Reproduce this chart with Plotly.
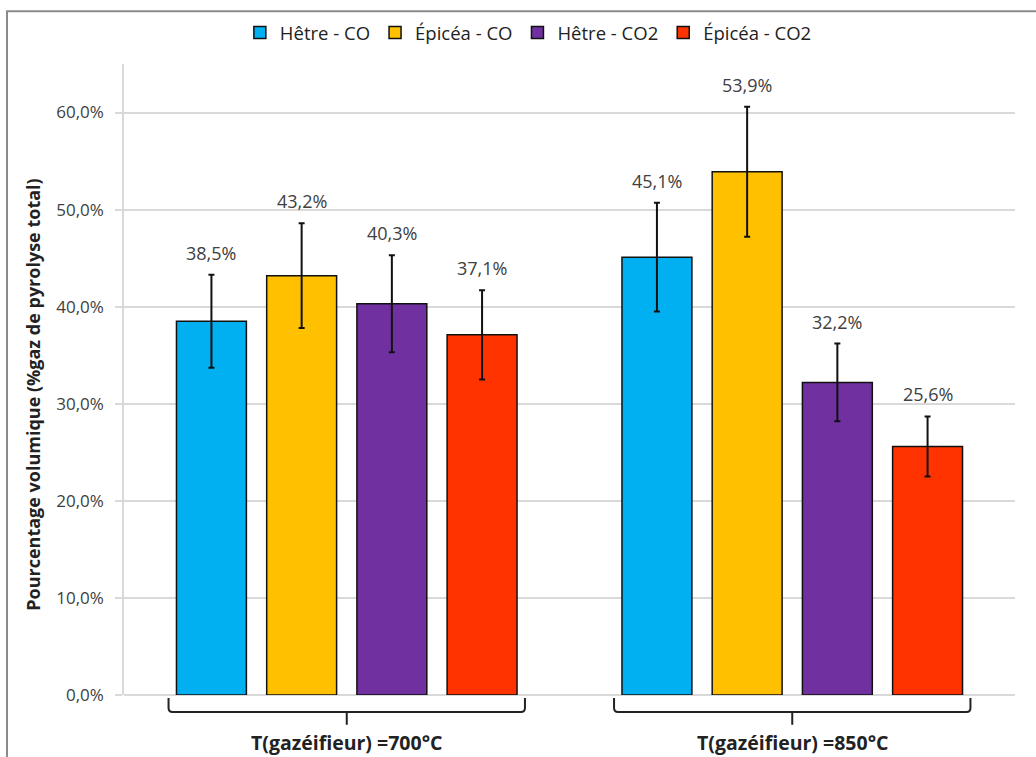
import plotly.graph_objects as go

# ---- data ----
categories = ["T(gazéifieur) =700°C", "T(gazéifieur) =850°C"]
series_names = ["Hêtre - CO", "Épicéa - CO", "Hêtre - CO2", "Épicéa - CO2"]
hetre_co = [38.5, 45.1]
epicea_co = [43.2, 53.9]
hetre_co2 = [40.3, 32.2]
epicea_co2 = [37.1, 25.6]
err_hetre_co = [4.8, 5.6]
err_epicea_co = [5.4, 6.7]
err_hetre_co2 = [5.0, 4.0]
err_epicea_co2 = [4.6, 3.1]
y_ticks = [0, 10, 20, 30, 40, 50, 60]
y_tick_labels = ["0,0%", "10,0%", "20,0%", "30,0%", "40,0%", "50,0%", "60,0%"]
y_title = "Pourcentage volumique (%gaz de pyrolyse total)"

values = [hetre_co, epicea_co, hetre_co2, epicea_co2]
errors = [err_hetre_co, err_epicea_co, err_hetre_co2, err_epicea_co2]
colors = ["#00B0F0", "#FFC000", "#7030A0", "#FF3300"]

FONT = "Open Sans"
BARGAP = 0.19
BARGROUPGAP = 0.225

fig = go.Figure()
for name, vals, errs, col in zip(series_names, values, errors, colors):
    fig.add_trace(go.Bar(
        name=name, x=categories, y=vals,
        marker=dict(color=col, line=dict(color="#111111", width=1.5)),
        error_y=dict(type="data", array=errs, visible=True,
                     color="#111111", thickness=2, width=3),
    ))

def fmt(v):
    return f"{v:.1f}".replace(".", ",") + "%"

annotations = []
n = len(series_names)
slot = (1 - BARGAP) / n
for k, (vals, errs) in enumerate(zip(values, errors)):
    off = -(1 - BARGAP) / 2 + slot * (k + 0.5)
    for i, (v, e) in enumerate(zip(vals, errs)):
        annotations.append(dict(
            x=i + off, y=v + e, xref="x", yref="y", text=fmt(v),
            showarrow=False, yanchor="bottom", yshift=8,
            font=dict(family=FONT, size=18, color="#404040")))

PLOT_W = 1036 - 124 - 21
PLOT_H = 757 - 60 - 62

# category labels below braces
for i, c in enumerate(categories):
    annotations.append(dict(
        x=i, y=-(743 - 695) / PLOT_H, xref="x", yref="paper",
        text=f"<b>{c}</b>", showarrow=False, yanchor="middle",
        font=dict(family=FONT, size=19.5, color="#222222")))

# y-axis title
annotations.append(dict(
    x=-0.102, y=0.476, xref="paper", yref="paper", text=f"<b>{y_title}</b>",
    textangle=-90, showarrow=False, xanchor="center", yanchor="middle",
    font=dict(family=FONT, size=18, color="#222222")))

# braces under each category (paper coords derived from category index)
def px2x(i, off_cat=0.0):
    return (i + off_cat + 0.5) / 2
def py(pix_below):
    return -pix_below / PLOT_H

shapes = []
half = 0.4
for i in range(len(categories)):
    xl = px2x(i, -half)
    xr = px2x(i, half)
    xc = px2x(i)
    r = 4 / PLOT_W
    rr = 4 / PLOT_H
    y0 = py(3)
    y1 = py(17)
    y2 = py(30)
    path = (f"M {xl},{y0} L {xl},{y1 + rr} Q {xl},{y1} {xl + r},{y1} "
            f"L {xr - r},{y1} Q {xr},{y1} {xr},{y1 + rr} L {xr},{y0} "
            f"M {xc},{y1} L {xc},{y2}")
    shapes.append(dict(type="path", path=path, xref="paper", yref="paper",
                       line=dict(color="#222222", width=2)))

# outer chart border (cropped at right/bottom)
shapes.append(dict(type="rect", xref="paper", yref="paper",
                   x0=(7 - 124) / PLOT_W, x1=(1045 - 124) / PLOT_W,
                   y0=-(770 - 695) / PLOT_H, y1=(695 - 7) / PLOT_H,
                   line=dict(color="#8a8a8a", width=2), layer="below"))

fig.update_layout(
    width=1036, height=757,
    barmode="group", bargap=BARGAP, bargroupgap=BARGROUPGAP,
    margin=dict(l=124, r=21, t=60, b=62),
    paper_bgcolor="white", plot_bgcolor="white",
    font=dict(family=FONT, size=17, color="#404040"),
    showlegend=True,
    legend=dict(orientation="h", xref="container", yref="container",
                x=0.51, y=1 - 33 / 757, xanchor="center", yanchor="middle",
                font=dict(family=FONT, size=18.5, color="#222222"),
                bgcolor="rgba(0,0,0,0)"),
    annotations=annotations,
    shapes=shapes,
)
fig.update_xaxes(range=[-0.5, 1.5], showticklabels=False, showgrid=False,
                 showline=False, ticks="", zeroline=False)
fig.update_yaxes(range=[0, 65], tickvals=y_ticks, ticktext=y_tick_labels,
                 showgrid=True, gridcolor="#d9d9d9",
                 gridwidth=1.5, zeroline=True, zerolinecolor="#d9d9d9",
                 zerolinewidth=1.5, showline=True, linecolor="#d9d9d9",
                 linewidth=1.5, ticks="outside", ticklen=7,
                 tickcolor="#d9d9d9", tickwidth=1.5, ticklabelstandoff=8,
                 tickfont=dict(family=FONT, size=17, color="#404040"))

fig.write_html("out.html",
               config={"displayModeBar": False},
               post_script="document.body.style.margin='0';"
                           "document.body.style.overflow='hidden';")
